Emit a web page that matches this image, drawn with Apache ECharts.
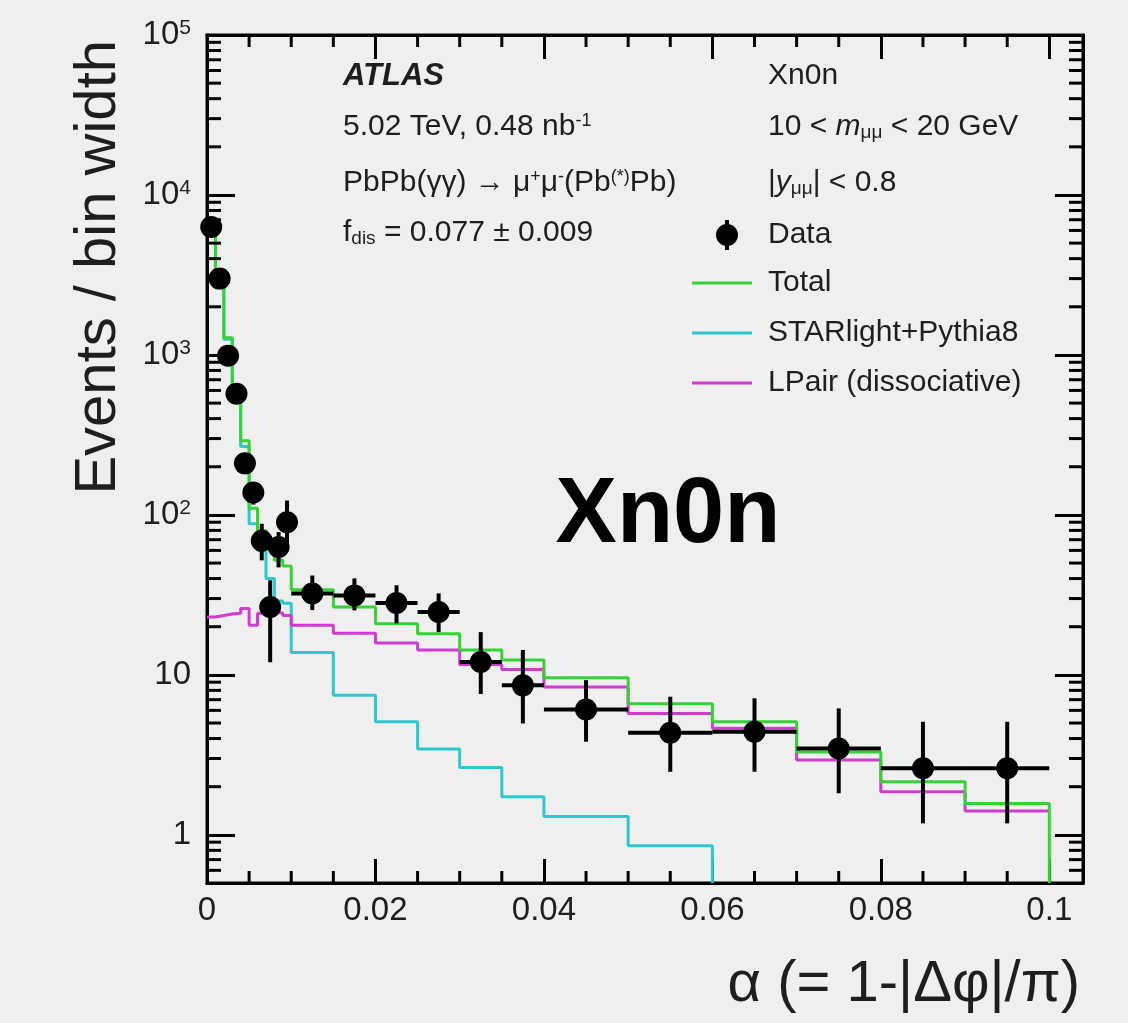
<!DOCTYPE html>
<html>
<head>
<meta charset="utf-8">
<script src="https://cdn.jsdelivr.net/npm/echarts@6.0.0/dist/echarts.min.js"></script>
<style>
html, body { margin: 0; padding: 0; background: #efefef; }
#chart { width: 1128px; height: 1023px; }
</style>
</head>
<body>
<div id="chart"></div>
<script>
// alpha bin edges (variable binning)
var binEdges = [0, 0.001, 0.002, 0.003, 0.004, 0.005, 0.006, 0.007, 0.008, 0.009, 0.010,
    0.015, 0.020, 0.025, 0.030, 0.035, 0.040,
    0.050, 0.060, 0.070, 0.080, 0.090, 0.100];

// events / bin width, one value per bin
var dataVals = [6300, 3000, 990, 572, 210, 138, 69, 26.6, 63, 90,
    32.3, 31.4, 28.1, 24.7, 12.05, 8.6,
    6.08, 4.35, 4.41, 3.47, 2.61, 2.61];
var dataHi = [6700, 3250, 1100, 640, 240, 160, 88, 39, 78, 123,
    41.8, 40.1, 36.3, 32.3, 18.5, 14.3,
    9.27, 7.3, 7.14, 6.17, 5.09, 5.09];
var dataLo = [5900, 2750, 890, 505, 180, 116, 52, 12, 47, 62,
    25.4, 25.3, 21.0, 18.5, 7.6, 4.97,
    3.82, 2.48, 2.48, 1.82, 1.18, 1.18];

var totalVals = [5800, 2830, 1280, 597, 291, 110, 80, 62, 52, 48,
    34, 26.6, 20.9, 18.1, 14.3, 12.4,
    9.6, 6.6, 5.1, 3.3, 2.15, 1.57];
var starlightVals = [5777, 2805, 1255, 573, 268, 88, 60, 40, 29, 28,
    13.8, 7.47, 5.09, 3.44, 2.64, 1.73,
    1.30, 0.854];
var lpairVals = [23, 23.5, 24, 24.3, 26, 20.4, 24.3, 25, 24.3, 23.5,
    20.4, 18.2, 15.8, 14.3, 11.6, 10.8,
    8.4, 5.74, 4.63, 2.94, 1.86, 1.41];

var xMin = 0, xMax = 0.104;
var yMin = 0.5, yMax = 100000;
var xMinorTicks = [0.005, 0.01, 0.015, 0.025, 0.03, 0.035, 0.045, 0.05, 0.055,
    0.065, 0.07, 0.075, 0.085, 0.09, 0.095];
var yMinorTicks = [0.6, 0.7, 0.8, 0.9,
    2, 3, 4, 5, 6, 7, 8, 9,
    20, 30, 40, 50, 60, 70, 80, 90,
    200, 300, 400, 500, 600, 700, 800, 900,
    2000, 3000, 4000, 5000, 6000, 7000, 8000, 9000,
    20000, 30000, 40000, 50000, 60000, 70000, 80000, 90000];

var FONT = 'Liberation Sans, Arial, Helvetica, sans-serif';
var TXT = '#1e1e1e';
var FS = 30;

// histogram outline as step points
function stepData(vals, dropToMin) {
    var pts = [];
    for (var i = 0; i < vals.length; i++) {
        pts.push([binEdges[i], vals[i]]);
    }
    pts.push([binEdges[vals.length], vals[vals.length - 1]]);
    if (dropToMin) {
        pts.push([binEdges[vals.length], yMin]);
    }
    return pts;
}

function histSeries(name, vals, color, drop) {
    return {
        name: name,
        type: 'line',
        step: 'end',
        symbol: 'none',
        data: stepData(vals, drop),
        lineStyle: { color: color, width: 3 },
        clip: true,
        z: 3
    };
}

var pointData = [];
for (var i = 0; i < dataVals.length; i++) {
    var lo = binEdges[i], hi = binEdges[i + 1];
    pointData.push([(lo + hi) / 2, dataVals[i], lo, hi, dataLo[i], dataHi[i]]);
}

var chart = echarts.init(document.getElementById('chart'));

function yLabel(v) {
    var p = Math.log(v) / Math.LN10;
    var r = Math.round(p);
    if (Math.abs(p - r) > 1e-6) return '';
    if (r === 0) return '1';
    if (r === 1) return '10';
    return '10{sup|' + r + '}';
}

function xLabel(v) {
    var k = v / 0.02;
    if (Math.abs(k - Math.round(k)) > 1e-6) return '';
    return String(Math.round(v * 100) / 100);
}

var axisLineStyle = { color: '#000', width: 3 };
var supStyle = { fontSize: 18, fontFamily: FONT, fill: TXT, verticalAlign: 'top', padding: [0, 0, 6, 0] };
var subStyle = { fontSize: 19, fontFamily: FONT, fill: TXT, verticalAlign: 'bottom', padding: [8, 0, 0, 0] };
var itStyle = { fontSize: FS, fontStyle: 'italic', fontFamily: FONT, fill: TXT };

function label(x, y, text, extra) {
    var style = { text: text, fontSize: FS, fontFamily: FONT, fill: TXT, verticalAlign: 'middle',
        rich: { sup: supStyle, sub: subStyle, it: itStyle } };
    for (var key in extra) style[key] = extra[key];
    return { type: 'text', x: x, y: y, style: style };
}

var lineLegendY = [283, 333, 383];
var lineLegendColor = ['#35d235', '#2ec8cc', '#d03cd0'];

var graphics = [
    // axis titles
    {
        type: 'text', x: 99, y: 40, rotation: Math.PI / 2,
        style: { text: 'Events / bin width', fontSize: 58, fontFamily: FONT, fill: TXT,
            align: 'right', verticalAlign: 'middle' }
    },
    {
        type: 'text', x: 1080, y: 985,
        style: { text: 'α (= 1-|Δφ|/π)', fontSize: 58, fontFamily: FONT, fill: TXT,
            align: 'right', verticalAlign: 'middle' }
    },
    // left column
    label(343, 76, 'ATLAS', { fontWeight: 'bold', fontStyle: 'italic', fontSize: 31 }),
    label(343, 127, '5.02 TeV, 0.48 nb{sup|-1}'),
    label(343, 183, 'PbPb(γγ) → μ{sup|+}μ{sup|-}(Pb{sup|(*)}Pb)'),
    label(343, 233, 'f{sub|dis} = 0.077 ± 0.009'),
    // right column
    label(768, 76, 'Xn0n'),
    label(768, 127, '10 < {it|m}{sub|μμ} < 20 GeV'),
    label(768, 183, '|{it|y}{sub|μμ}| < 0.8'),
    // legend
    { type: 'line', shape: { x1: 727, y1: 220, x2: 727, y2: 250 }, style: { stroke: '#000', lineWidth: 4 } },
    { type: 'circle', shape: { cx: 727, cy: 235, r: 11 }, style: { fill: '#000' } },
    label(768, 235, 'Data'),
    label(768, 283, 'Total'),
    label(768, 333, 'STARlight+Pythia8'),
    label(768, 383, 'LPair (dissociative)'),
    // big label
    {
        type: 'text', x: 668, y: 517,
        style: { text: 'Xn0n', fontSize: 92, fontWeight: 'bold', fontFamily: FONT, fill: '#000',
            align: 'center', verticalAlign: 'middle' }
    }
];
for (var k = 0; k < lineLegendY.length; k++) {
    graphics.push({
        type: 'line',
        shape: { x1: 692, y1: lineLegendY[k], x2: 752, y2: lineLegendY[k] },
        style: { stroke: lineLegendColor[k], lineWidth: 3 }
    });
}

chart.setOption({
    backgroundColor: '#efefef',
    animation: false,
    grid: {
        left: 207, right: 45, top: 35, bottom: 140,
        show: true, borderColor: '#000', borderWidth: 3, backgroundColor: 'transparent'
    },
    xAxis: [
        {
            type: 'value', min: xMin, max: xMax, interval: 0.02, position: 'bottom',
            axisLine: { onZero: false, lineStyle: axisLineStyle },
            axisTick: { inside: true, length: 24, lineStyle: axisLineStyle },
            axisLabel: { fontSize: 33, fontFamily: FONT, color: TXT, margin: 11, formatter: xLabel },
            splitLine: { show: false }
        },
        {
            type: 'value', min: xMin, max: xMax, interval: 0.02, position: 'top',
            axisLine: { onZero: false, lineStyle: axisLineStyle },
            axisTick: { inside: true, length: 24, lineStyle: axisLineStyle },
            axisLabel: { show: false },
            splitLine: { show: false }
        }
    ],
    yAxis: [
        {
            type: 'log', logBase: 10, min: yMin, max: yMax, position: 'left',
            axisLine: { onZero: false, lineStyle: axisLineStyle },
            axisTick: { inside: true, length: 28, lineStyle: axisLineStyle },
            axisLabel: {
                fontSize: 33, fontFamily: FONT, color: TXT, margin: 16, formatter: yLabel,
                rich: { sup: { fontSize: 21, fontFamily: FONT, color: TXT, verticalAlign: 'top', padding: [0, 0, 14, 0] } }
            },
            splitLine: { show: false }
        },
        {
            type: 'log', logBase: 10, min: yMin, max: yMax, position: 'right',
            axisLine: { onZero: false, lineStyle: axisLineStyle },
            axisTick: { inside: true, length: 28, lineStyle: axisLineStyle },
            axisLabel: { show: false },
            splitLine: { show: false }
        }
    ],
    graphic: graphics,
    series: [
        histSeries('STARlight+Pythia8', starlightVals, '#2ec8cc', true),
        histSeries('LPair (dissociative)', lpairVals, '#d03cd0', false),
        histSeries('Total', totalVals, '#35d235', true),
        {
            name: 'Data',
            type: 'custom',
            data: pointData,
            z: 6,
            renderItem: function (params, api) {
                var c = api.coord([api.value(0), api.value(1)]);
                var pl = api.coord([api.value(2), api.value(1)]);
                var ph = api.coord([api.value(3), api.value(1)]);
                var pyl = api.coord([api.value(0), api.value(4)]);
                var pyh = api.coord([api.value(0), api.value(5)]);
                return {
                    type: 'group',
                    children: [
                        { type: 'line', shape: { x1: pl[0], y1: c[1], x2: ph[0], y2: c[1] }, style: { stroke: '#000', lineWidth: 4 } },
                        { type: 'line', shape: { x1: c[0], y1: pyl[1], x2: c[0], y2: pyh[1] }, style: { stroke: '#000', lineWidth: 4 } },
                        { type: 'circle', shape: { cx: c[0], cy: c[1], r: 11 }, style: { fill: '#000' } }
                    ]
                };
            }
        },
        {
            // minor ticks on the log axes, left and right
            type: 'custom',
            silent: true,
            z: 7,
            data: yMinorTicks.map(function (v) { return [xMin, v]; }),
            renderItem: function (params, api) {
                var pL = api.coord([xMin, api.value(1)]);
                var pR = api.coord([xMax, api.value(1)]);
                return {
                    type: 'group',
                    children: [
                        { type: 'line', shape: { x1: pL[0], y1: pL[1], x2: pL[0] + 14, y2: pL[1] }, style: { stroke: '#000', lineWidth: 3 } },
                        { type: 'line', shape: { x1: pR[0] - 14, y1: pR[1], x2: pR[0], y2: pR[1] }, style: { stroke: '#000', lineWidth: 3 } }
                    ]
                };
            }
        },
        {
            // minor ticks on the x axes, bottom and top
            type: 'custom',
            silent: true,
            z: 7,
            data: xMinorTicks.map(function (v) { return [v, yMin]; }),
            renderItem: function (params, api) {
                var pB = api.coord([api.value(0), yMin]);
                var pT = api.coord([api.value(0), yMax]);
                return {
                    type: 'group',
                    children: [
                        { type: 'line', shape: { x1: pB[0], y1: pB[1], x2: pB[0], y2: pB[1] - 12 }, style: { stroke: '#000', lineWidth: 3 } },
                        { type: 'line', shape: { x1: pT[0], y1: pT[1], x2: pT[0], y2: pT[1] + 12 }, style: { stroke: '#000', lineWidth: 3 } }
                    ]
                };
            }
        }
    ]
});
</script>
</body>
</html>
